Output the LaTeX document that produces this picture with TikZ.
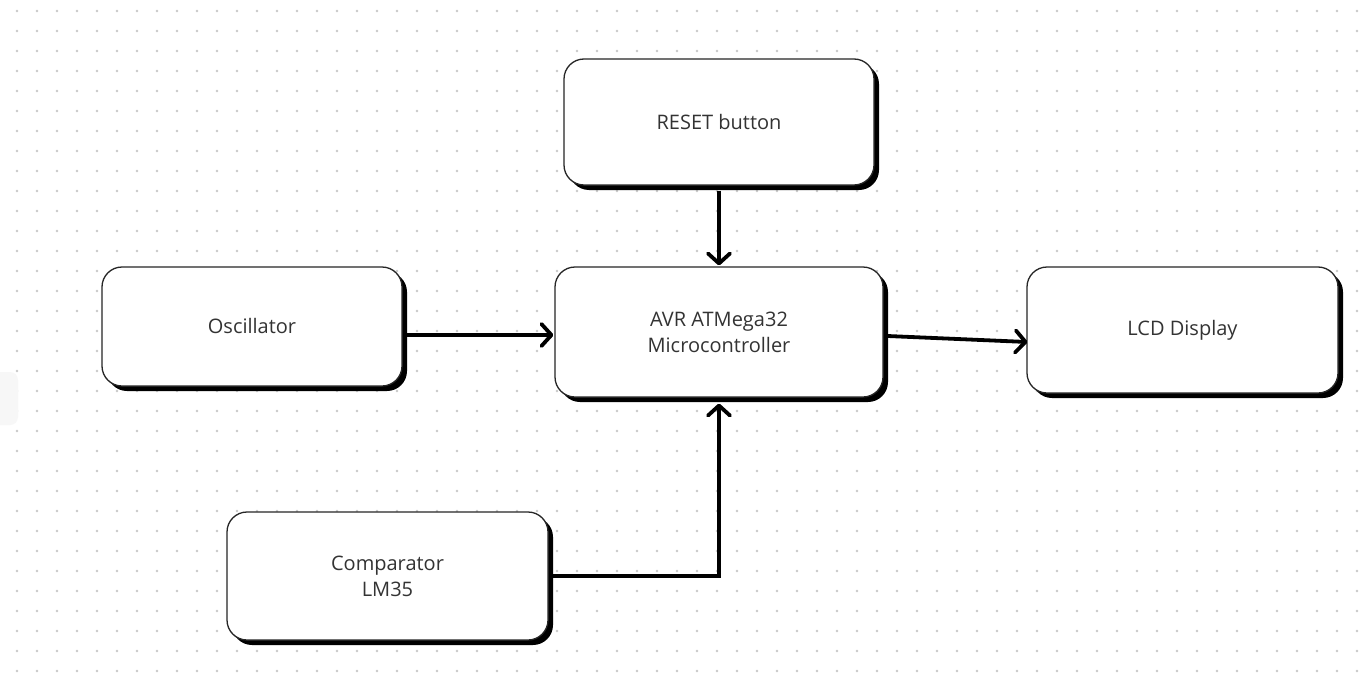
\documentclass[tikz,border=0pt]{standalone}
\usepackage{fontspec}
\setmainfont{Open Sans}
\usetikzlibrary{arrows.meta,shadows}
\definecolor{txt}{HTML}{333333}
\definecolor{dotc}{HTML}{C8C8C8}
\begin{document}
\begin{tikzpicture}[x=1pt,y=-1pt,
  blk/.style={draw=black!85, line width=1.3pt, fill=white, rounded corners=20pt,
    text=txt, font=\fontsize{20}{26}\selectfont, align=center,
    general shadow={fill=black, shadow xshift=5pt, shadow yshift=-5pt}},
  arr/.style={line width=3.8pt, -{Straight Barb[length=10pt,width=22pt,round]}}]
\useasboundingbox (0,0) rectangle (1359,688);
\fill[white] (0,0) rectangle (1359,688);
\foreach \i in {0,...,67}{
  \foreach \j in {0,...,33}{
    \fill[dotc] (17+20*\i,11+20*\j) circle (1.3pt);
  }}
\fill[gray!6, rounded corners=8pt] (-20,372) rectangle (18,425);
\node[blk, minimum width=310pt, minimum height=126pt] (reset) at (719,122) {\raisebox{-3pt}{RESET button}};
\node[blk, minimum width=300pt, minimum height=119pt] (osc) at (252,326.5) {\raisebox{2pt}{Oscillator}};
\node[blk, minimum width=328pt, minimum height=130pt] (mcu) at (719,332) {AVR ATMega32\\Microcontroller};
\node[blk, minimum width=311pt, minimum height=126pt] (lcd) at (1182.5,330) {LCD Display};
\node[blk, minimum width=321pt, minimum height=128pt] (comp) at (387.5,576) {Comparator\\LM35};
\draw[arr] ([yshift=-5pt]reset.south) -- ([yshift=1pt]mcu.north);
\draw[arr] ([xshift=4pt,yshift=-8.5pt]osc.east) -- ([xshift=-1pt,yshift=-3pt]mcu.west);
\draw[arr] ([xshift=4pt,yshift=-4pt]mcu.east) -- ([xshift=1pt,yshift=-12pt]lcd.west);
\draw[arr] ([xshift=4pt]comp.east) -| ([yshift=-6pt]mcu.south);
\end{tikzpicture}
\end{document}
